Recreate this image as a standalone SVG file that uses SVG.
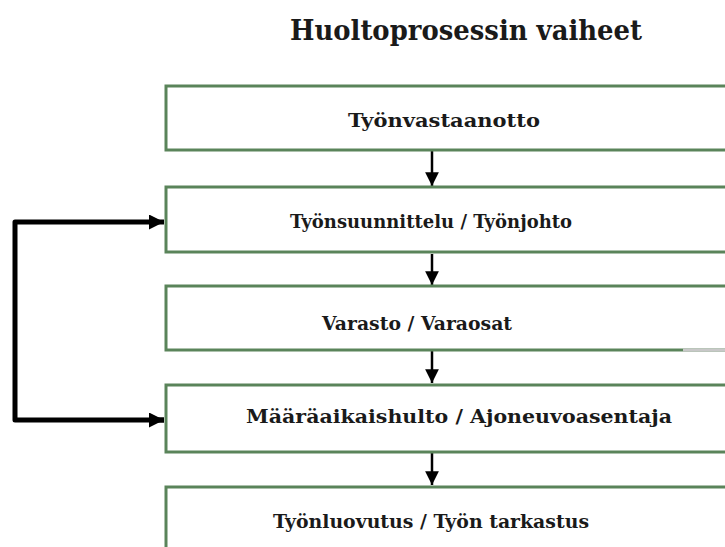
<svg xmlns="http://www.w3.org/2000/svg" width="725" height="547" viewBox="0 0 725 547">
<style>
.box{fill:#ffffff;stroke:#5a845a;stroke-width:3}
.lbl{font-family:"DejaVu Serif","Liberation Serif",serif;font-weight:bold;font-size:18.5px;fill:#1a1a1a}
.title{font-family:"DejaVu Serif","Liberation Serif",serif;font-weight:bold;font-size:27px;fill:#1a1a1a}
.con{fill:none;stroke:#000;stroke-width:2.5}
.loop{fill:none;stroke:#000;stroke-width:5;stroke-linejoin:round}
</style>
<defs>
<marker id="ah" viewBox="0 0 10 10" refX="10" refY="5" markerWidth="5.5" markerHeight="5.5" orient="auto" markerUnits="strokeWidth">
<path d="M0,0 L10,5 L0,10 z" fill="#000"/>
</marker>
<marker id="ah2" viewBox="0 0 10 10" refX="10" refY="5" markerWidth="3.4" markerHeight="3" orient="auto" markerUnits="strokeWidth">
<path d="M0,0 L10,5 L0,10 z" fill="#000"/>
</marker>
</defs>
<rect width="725" height="547" fill="#ffffff"/>
<text class="title" x="290" y="40" textLength="352" lengthAdjust="spacingAndGlyphs">Huoltoprosessin vaiheet</text>

<g id="connectors">
<line class="con" x1="432" y1="151" x2="432" y2="186" marker-end="url(#ah)"/>
<line class="con" x1="432" y1="254" x2="432" y2="285" marker-end="url(#ah)"/>
<line class="con" x1="432" y1="351" x2="432" y2="383" marker-end="url(#ah)"/>
<line class="con" x1="432" y1="453" x2="432" y2="485" marker-end="url(#ah)"/>
<path class="loop" d="M164,420 L15,420 L15,222 L164,222" marker-end="url(#ah2)"/>
<path d="M150,420 L164,420" class="loop" marker-end="url(#ah2)"/>
</g>

<g id="n1">
<rect class="box" x="166" y="86" width="570" height="64"/>
<text class="lbl" x="348" y="127" textLength="192" lengthAdjust="spacingAndGlyphs">Työnvastaanotto</text>
</g>
<g id="n2">
<rect class="box" x="166" y="187" width="570" height="65"/>
<text class="lbl" x="290" y="228" textLength="282" lengthAdjust="spacingAndGlyphs">Työnsuunnittelu / Työnjohto</text>
</g>
<g id="n3">
<rect class="box" x="166" y="286" width="570" height="64"/>
<line x1="683" y1="350" x2="730" y2="350" stroke="#c8c8c8" stroke-width="3"/>
<text class="lbl" x="322" y="330" textLength="190" lengthAdjust="spacingAndGlyphs">Varasto / Varaosat</text>
</g>
<g id="n4">
<rect class="box" x="166" y="385" width="570" height="67"/>
<text class="lbl" x="246" y="423" textLength="426" lengthAdjust="spacingAndGlyphs">Määräaikaishulto / Ajoneuvoasentaja</text>
</g>
<g id="n5">
<rect class="box" x="166" y="487" width="570" height="80"/>
<text class="lbl" x="273" y="528" textLength="316" lengthAdjust="spacingAndGlyphs">Työnluovutus / Työn tarkastus</text>
</g>
</svg>
